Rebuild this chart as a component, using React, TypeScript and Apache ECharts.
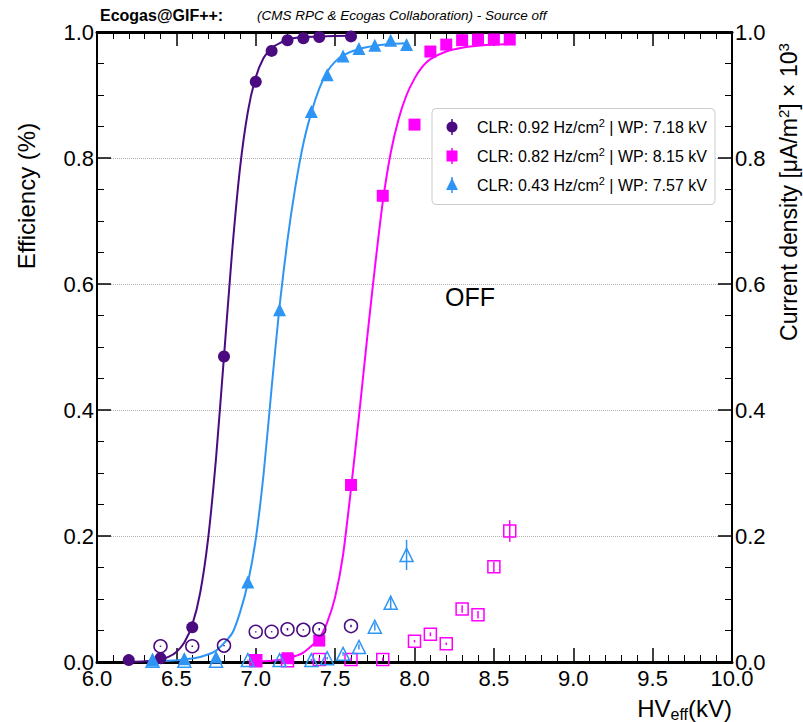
import React, { useEffect, useRef } from "react";
import * as echarts from "echarts";

const FONT = "Liberation Sans, Arial, Helvetica, sans-serif";
const PURPLE = "#4b0b80";
const MAGENTA = "#ff00ff";
const BLUE = "#2f95f5";

// Axis ticks
const xTicks = { min: 6.0, max: 10.0, step: 0.5 };
const yTicks = { min: 0.0, max: 1.0, step: 0.2 };

// Efficiency points (filled markers)
const effPurpleX = [6.2, 6.4, 6.6, 6.8, 7.0, 7.1, 7.2, 7.3, 7.4, 7.6];
const effPurpleY = [0.003, 0.006, 0.055, 0.485, 0.921, 0.970, 0.987, 0.990, 0.992, 0.993];

const effMagentaX = [7.0, 7.2, 7.4, 7.6, 7.8, 8.0, 8.1, 8.2, 8.3, 8.4, 8.5, 8.6];
const effMagentaY = [0.003, 0.006, 0.034, 0.281, 0.740, 0.853, 0.969, 0.980, 0.987, 0.988, 0.988, 0.988];

const effBlueX = [6.35, 6.55, 6.75, 6.95, 7.15, 7.35, 7.45, 7.55, 7.65, 7.75, 7.85, 7.95];
const effBlueY = [0.003, 0.005, 0.008, 0.127, 0.559, 0.874, 0.932, 0.962, 0.974, 0.979, 0.987, 0.980];

// Fit curves
const fitPurpleX = [6.2, 6.3, 6.4, 6.45, 6.5, 6.55, 6.6, 6.65, 6.7, 6.75, 6.8, 6.85, 6.9, 6.95, 7.0, 7.05, 7.1, 7.2, 7.3, 7.4, 7.6];
const fitPurpleY = [0.0, 0.001, 0.004, 0.008, 0.016, 0.031, 0.059, 0.11, 0.196, 0.324, 0.485, 0.648, 0.782, 0.873, 0.928, 0.959, 0.975, 0.988, 0.992, 0.993, 0.994];

const fitBlueX = [6.35, 6.45, 6.55, 6.65, 6.75, 6.85, 6.9, 6.95, 7.0, 7.05, 7.1, 7.15, 7.2, 7.25, 7.3, 7.35, 7.4, 7.45, 7.5, 7.55, 7.65, 7.75, 7.85, 7.95];
const fitBlueY = [0.001, 0.002, 0.004, 0.008, 0.018, 0.045, 0.078, 0.125, 0.195, 0.3, 0.435, 0.565, 0.67, 0.755, 0.823, 0.872, 0.91, 0.937, 0.953, 0.963, 0.973, 0.978, 0.981, 0.982];

const fitMagentaX = [7.0, 7.1, 7.2, 7.3, 7.4, 7.45, 7.5, 7.55, 7.6, 7.65, 7.7, 7.75, 7.8, 7.85, 7.9, 7.95, 8.0, 8.05, 8.1, 8.2, 8.3, 8.4, 8.5, 8.6];
const fitMagentaY = [0.001, 0.002, 0.006, 0.015, 0.038, 0.063, 0.103, 0.17, 0.275, 0.39, 0.51, 0.625, 0.73, 0.808, 0.862, 0.9, 0.926, 0.945, 0.957, 0.969, 0.975, 0.978, 0.98, 0.981];

// Current density points (open markers, right axis, x10^3)
const curPurpleX = [6.4, 6.6, 6.8, 7.0, 7.1, 7.2, 7.3, 7.4, 7.6];
const curPurpleY = [0.025, 0.025, 0.026, 0.048, 0.048, 0.052, 0.051, 0.052, 0.057];
const curPurpleErr = [0.001, 0.001, 0.001, 0.001, 0.001, 0.002, 0.001, 0.002, 0.002];

const curMagentaX = [7.0, 7.2, 7.4, 7.6, 7.8, 8.0, 8.1, 8.2, 8.3, 8.4, 8.5, 8.6];
const curMagentaY = [0.002, 0.002, 0.004, 0.004, 0.004, 0.033, 0.044, 0.029, 0.084, 0.075, 0.151, 0.208];
const curMagentaErr = [0.002, 0.002, 0.003, 0.003, 0.003, 0.002, 0.003, 0.002, 0.006, 0.006, 0.008, 0.017];

const curBlueX = [6.35, 6.55, 6.75, 6.95, 7.15, 7.35, 7.45, 7.55, 7.65, 7.75, 7.85, 7.95];
const curBlueY = [0.002, 0.002, 0.002, 0.003, 0.003, 0.003, 0.006, 0.013, 0.024, 0.056, 0.094, 0.170];
const curBlueErr = [0.001, 0.001, 0.001, 0.001, 0.001, 0.002, 0.002, 0.003, 0.004, 0.006, 0.011, 0.024];

// Legend entries
const legendLabels = [
  "CLR: 0.92 Hz/cm{s|2} | WP: 7.18 kV",
  "CLR: 0.82 Hz/cm{s|2} | WP: 8.15 kV",
  "CLR: 0.43 Hz/cm{s|2} | WP: 7.57 kV",
];

const zip = (xs: number[], ys: number[]) => xs.map((x, i) => [x, ys[i]]);

const errSeries = (xs: number[], ys: number[], es: number[], color: string, yAxisIndex: number) => ({
  type: "custom",
  xAxisIndex: 0,
  yAxisIndex,
  silent: true,
  z: 5,
  data: xs.map((x, i) => [x, Math.max(0, ys[i] - es[i]), ys[i] + es[i]]),
  renderItem: (_p: any, api: any) => {
    const a = api.coord([api.value(0), api.value(1)]);
    const b = api.coord([api.value(0), api.value(2)]);
    return {
      type: "line",
      shape: { x1: a[0], y1: a[1], x2: b[0], y2: b[1] },
      style: { stroke: color, lineWidth: 1.5 },
    };
  },
});

const fitSeries = (xs: number[], ys: number[], color: string) => ({
  type: "line",
  data: zip(xs, ys),
  showSymbol: false,
  symbol: "none",
  smooth: 0.2,
  lineStyle: { color, width: 2 },
  silent: true,
  z: 2,
});

const filledSeries = (xs: number[], ys: number[], color: string, symbol: string, size: number) => ({
  type: "scatter",
  data: zip(xs, ys),
  symbol,
  symbolSize: size,
  itemStyle: { color, opacity: 1 },
  silent: true,
  z: 3,
});

const openSeries = (xs: number[], ys: number[], color: string, symbol: string, size: number) => ({
  type: "scatter",
  yAxisIndex: 1,
  data: zip(xs, ys),
  symbol,
  symbolSize: size,
  itemStyle: { color: "rgba(0,0,0,0)", borderColor: color, borderWidth: 1.5, opacity: 1 },
  silent: true,
  z: 4,
});

const fmt = (v: number) => v.toFixed(1);

const valueAxisCommon = {
  type: "value",
  axisLine: { show: true, onZero: false, lineStyle: { color: "#000", width: 2 } },
  axisTick: { show: true, inside: true, length: 14, lineStyle: { color: "#000", width: 1.5 } },
  minorTick: { show: true, length: 7, lineStyle: { color: "#000", width: 1 } },
  splitLine: { show: false },
};

const rowY = [127, 156, 185];
const legendMarkerX = 452;

const option: any = {
  animation: false,
  backgroundColor: "#fff",
  grid: { left: 97, right: 71, top: 32, bottom: 60, containLabel: false },
  xAxis: [
    {
      ...valueAxisCommon,
      position: "bottom",
      min: xTicks.min,
      max: xTicks.max,
      interval: xTicks.step,
      axisLine: { show: true, onZero: false, lineStyle: { color: "#000", width: 3 } },
      minorTick: { show: true, splitNumber: 5, length: 7, lineStyle: { color: "#000", width: 1 } },
      axisLabel: { formatter: fmt, fontSize: 22, fontFamily: FONT, color: "#000", margin: 5, showMinLabel: true, showMaxLabel: true },
    },
    {
      ...valueAxisCommon,
      position: "top",
      min: xTicks.min,
      max: xTicks.max,
      interval: xTicks.step,
      axisLine: { show: true, onZero: false, lineStyle: { color: "#000", width: 3 } },
      minorTick: { show: true, splitNumber: 5, length: 7, lineStyle: { color: "#000", width: 1 } },
      axisLabel: { show: false },
    },
  ],
  yAxis: [
    {
      ...valueAxisCommon,
      position: "left",
      min: yTicks.min,
      max: yTicks.max,
      interval: yTicks.step,
      minorTick: { show: true, splitNumber: 4, length: 7, lineStyle: { color: "#000", width: 1 } },
      splitLine: { show: true, lineStyle: { color: "#b0b0b0", type: "dotted", width: 1 } },
      axisLabel: { formatter: fmt, fontSize: 22, fontFamily: FONT, color: "#000", margin: 3, showMinLabel: true, showMaxLabel: true },
    },
    {
      ...valueAxisCommon,
      position: "right",
      min: yTicks.min,
      max: yTicks.max,
      interval: yTicks.step,
      minorTick: { show: true, splitNumber: 4, length: 7, lineStyle: { color: "#000", width: 1 } },
      axisLabel: { formatter: fmt, fontSize: 22, fontFamily: FONT, color: "#000", margin: 3, showMinLabel: true, showMaxLabel: true },
    },
  ],
  series: [
    fitSeries(fitPurpleX, fitPurpleY, PURPLE),
    fitSeries(fitBlueX, fitBlueY, BLUE),
    fitSeries(fitMagentaX, fitMagentaY, MAGENTA),
    filledSeries(effPurpleX, effPurpleY, PURPLE, "circle", 12),
    filledSeries(effMagentaX, effMagentaY, MAGENTA, "rect", 12),
    filledSeries(effBlueX, effBlueY, BLUE, "triangle", 13),
    openSeries(curPurpleX, curPurpleY, PURPLE, "circle", 13),
    openSeries(curMagentaX, curMagentaY, MAGENTA, "rect", 12),
    openSeries(curBlueX, curBlueY, BLUE, "triangle", 13),
    errSeries(curPurpleX, curPurpleY, curPurpleErr, PURPLE, 1),
    errSeries(curMagentaX, curMagentaY, curMagentaErr, MAGENTA, 1),
    errSeries(curBlueX, curBlueY, curBlueErr, BLUE, 1),
  ],
  graphic: [
    {
      type: "text",
      x: 100,
      y: 15,
      style: { text: "Ecogas@GIF++:", fontSize: 16, fontWeight: "bold", fontFamily: FONT, fill: "#000", align: "left", verticalAlign: "middle", textAlign: "left", textVerticalAlign: "middle" },
    },
    {
      type: "text",
      x: 257,
      y: 15,
      style: { text: "(CMS RPC & Ecogas Collaboration) - Source off", fontSize: 13.5, fontStyle: "italic", fontFamily: FONT, fill: "#000", align: "left", verticalAlign: "middle", textAlign: "left", textVerticalAlign: "middle" },
    },
    {
      type: "text",
      x: 445,
      y: 297,
      style: { text: "OFF", fontSize: 25, fontFamily: FONT, fill: "#000", align: "left", verticalAlign: "middle", textAlign: "left", textVerticalAlign: "middle" },
    },
    {
      type: "text",
      x: 26,
      y: 196,
      rotation: Math.PI / 2,
      style: { text: "Efficiency (%)", fontSize: 24, fontFamily: FONT, fill: "#000", align: "center", verticalAlign: "middle", textAlign: "center", textVerticalAlign: "middle" },
    },
    {
      type: "text",
      x: 789,
      y: 192,
      rotation: Math.PI / 2,
      style: {
        text: "Current density [μA/m{s|2}] × 10{s|3}",
        fontSize: 23,
        fontFamily: FONT,
        fill: "#000",
        align: "center",
        verticalAlign: "middle",
        textAlign: "center",
        textVerticalAlign: "middle",
        lineHeight: 27,
        rich: { s: { fontSize: 15, fontFamily: FONT, fill: "#000", verticalAlign: "top", lineHeight: 27 } },
      },
    },
    {
      type: "text",
      x: 732,
      y: 708,
      style: {
        text: "HV{b|eff}(kV)",
        fontSize: 24,
        fontFamily: FONT,
        fill: "#000",
        align: "right",
        verticalAlign: "middle",
        textAlign: "right",
        textVerticalAlign: "middle",
        lineHeight: 28,
        rich: { b: { fontSize: 16, fontFamily: FONT, fill: "#000", verticalAlign: "bottom", lineHeight: 28 } },
      },
    },
    {
      type: "rect",
      z: 10,
      shape: { x: 432, y: 108.5, width: 283, height: 96, r: 4 },
      style: { fill: "#fff", stroke: "#cccccc", lineWidth: 1 },
    },
    // legend markers
    { type: "line", z: 11, shape: { x1: legendMarkerX, y1: rowY[0] - 8, x2: legendMarkerX, y2: rowY[0] + 8 }, style: { stroke: PURPLE, lineWidth: 1.5 } },
    { type: "circle", z: 11, shape: { cx: legendMarkerX, cy: rowY[0], r: 5.5 }, style: { fill: PURPLE } },
    { type: "line", z: 11, shape: { x1: legendMarkerX, y1: rowY[1] - 8, x2: legendMarkerX, y2: rowY[1] + 8 }, style: { stroke: MAGENTA, lineWidth: 1.5 } },
    { type: "rect", z: 11, shape: { x: legendMarkerX - 5.5, y: rowY[1] - 5.5, width: 11, height: 11 }, style: { fill: MAGENTA } },
    { type: "line", z: 11, shape: { x1: legendMarkerX, y1: rowY[2] - 8, x2: legendMarkerX, y2: rowY[2] + 8 }, style: { stroke: BLUE, lineWidth: 1.5 } },
    { type: "polygon", z: 11, shape: { points: [[legendMarkerX, rowY[2] - 7], [legendMarkerX - 6, rowY[2] + 5], [legendMarkerX + 6, rowY[2] + 5]] }, style: { fill: BLUE } },
    ...legendLabels.map((t, i) => ({
      type: "text",
      z: 11,
      x: 477,
      y: rowY[i],
      style: {
        text: t,
        fontSize: 16,
        fontFamily: FONT,
        fill: "#000",
        align: "left",
        verticalAlign: "middle",
        textAlign: "left",
        textVerticalAlign: "middle",
        lineHeight: 19,
        rich: { s: { fontSize: 11, fontFamily: FONT, fill: "#000", verticalAlign: "top", lineHeight: 19 } },
      },
    })),
  ],
};

export default function App() {
  const ref = useRef<HTMLDivElement>(null);
  useEffect(() => {
    if (!ref.current) return;
    const chart = echarts.init(ref.current, null, { renderer: "svg" });
    chart.setOption(option);
    return () => chart.dispose();
  }, []);
  return (
    <div
      ref={ref}
      style={{ position: "fixed", left: 0, top: 0, width: 803, height: 722, background: "#fff" }}
    />
  );
}
